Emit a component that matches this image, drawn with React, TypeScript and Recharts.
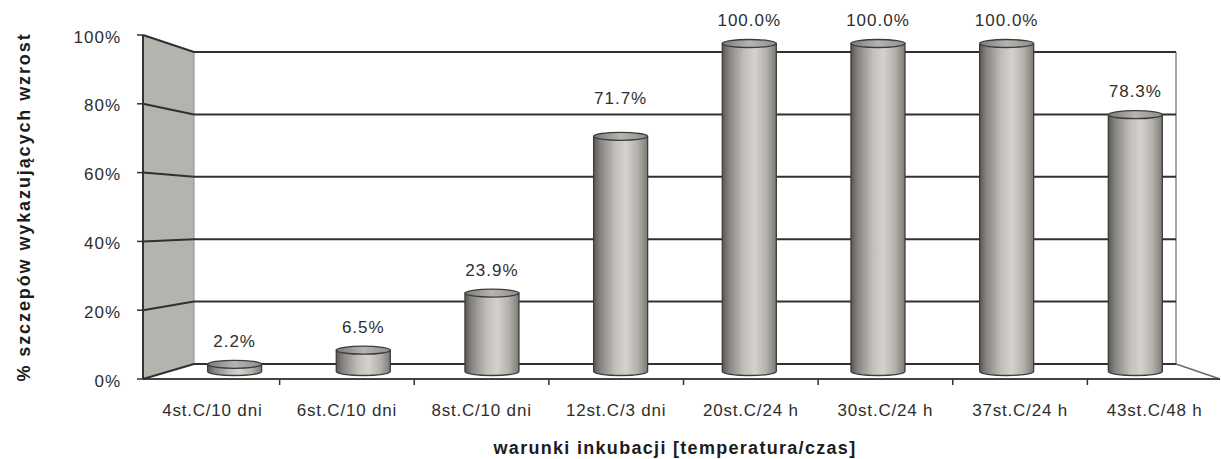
import React from 'react';
import { BarChart, Bar, XAxis, YAxis, CartesianGrid, LabelList, Label } from 'recharts';

// Share of strains showing growth under each incubation condition
const categories = [
  '4st.C/10 dni',
  '6st.C/10 dni',
  '8st.C/10 dni',
  '12st.C/3 dni',
  '20st.C/24 h',
  '30st.C/24 h',
  '37st.C/24 h',
  '43st.C/48 h',
];
const growthPercent = [2.2, 6.5, 23.9, 71.7, 100.0, 100.0, 100.0, 78.3];
const yTicks = [0, 20, 40, 60, 80, 100];
const xTitle = 'warunki inkubacji [temperatura/czas]';
const yTitle = '% szczepów wykazujących wzrost';

const data = categories.map((name, i) => ({ name, value: growthPercent[i] }));

// ---- layout -------------------------------------------------------------
const W = 1221;
const H = 459;
const Y_AXIS_W = 60;
const X_AXIS_H = 40;
const MARGIN = { top: 43.5, right: 21, bottom: 47.5, left: 110.6 };

// the plot area is the middle depth plane of the 3-D box (where the cylinders stand)
const PLOT = {
  left: MARGIN.left + Y_AXIS_W,
  right: W - MARGIN.right,
  top: MARGIN.top,
  bottom: H - MARGIN.bottom - X_AXIS_H,
};
type Plane = { left: number; right: number; top: number; bottom: number };
// front and back faces of the box, in perspective
const FRONT: Plane = { left: 143, right: 1220, top: 35, bottom: 379 };
const BACK: Plane = { left: 194, right: 1176, top: 52, bottom: 364 };

const toPlaneX = (x: number, p: Plane) =>
  p.left + ((x - PLOT.left) * (p.right - p.left)) / (PLOT.right - PLOT.left);
const toPlaneY = (y: number, p: Plane) =>
  p.top + ((y - PLOT.top) * (p.bottom - p.top)) / (PLOT.bottom - PLOT.top);

const FONT = 'Liberation Sans, Arial, Helvetica, sans-serif';
const TEXT = '#2e2e2e';
const GRID = '#303030';
const RY = 4; // half-height of the cylinder end ellipses

// raise the 12st.C label a bit above the others
const LABEL_LIFT: Record<number, number> = { 3: 15 };

// ---- box frame: left wall, floor edges, right edge of back wall -------
const BoxFrame = () => (
  <g>
    <polygon
      points={`${FRONT.left},${FRONT.top} ${BACK.left},${BACK.top} ${BACK.left},${BACK.bottom} ${FRONT.left},${FRONT.bottom}`}
      fill="#b5b3ae"
      stroke="none"
    />
    <line x1={BACK.left} y1={BACK.top} x2={BACK.left} y2={BACK.bottom} stroke="#8e8c88" strokeWidth={1} />
    <line x1={BACK.right} y1={BACK.top} x2={BACK.right} y2={BACK.bottom} stroke="#8a8a8a" strokeWidth={1.5} />
    <line x1={BACK.right} y1={BACK.bottom} x2={FRONT.right} y2={FRONT.bottom} stroke="#6a6a6a" strokeWidth={1.5} />
    <line x1={FRONT.left} y1={FRONT.bottom} x2={FRONT.right} y2={FRONT.bottom} stroke="#444" strokeWidth={2} />
    <line x1={FRONT.left} y1={FRONT.top} x2={FRONT.left} y2={FRONT.bottom} stroke="#333" strokeWidth={2} />
  </g>
);

// each horizontal grid line runs along the left wall and across the back wall
const renderGridLine = (props: any) => {
  const { y1, index } = props;
  const fy = toPlaneY(y1, FRONT);
  const by = toPlaneY(y1, BACK);
  return (
    <g key={`grid-${index}`}>
      {index === 0 && <BoxFrame />}
      <line x1={FRONT.left} y1={fy} x2={BACK.left} y2={by} stroke={GRID} strokeWidth={2} />
      <line x1={BACK.left} y1={by} x2={BACK.right} y2={by} stroke={GRID} strokeWidth={2} />
    </g>
  );
};

const renderYTick = (props: any) => {
  const { y, payload } = props;
  const fy = toPlaneY(y, FRONT);
  return (
    <g>
      <line x1={FRONT.left - 6} y1={fy} x2={FRONT.left} y2={fy} stroke="#333" strokeWidth={1.5} />
      <text
        x={121}
        y={fy + 2}
        textAnchor="end"
        dominantBaseline="central"
        fontFamily={FONT}
        fontSize={17}
        letterSpacing={1}
        fill={TEXT}
      >
        {`${payload.value}%`}
      </text>
    </g>
  );
};

const renderXTick = (props: any) => {
  const { x, payload, index } = props;
  const band = (PLOT.right - PLOT.left) / categories.length;
  const fx = toPlaneX(x, FRONT) + 2;
  const bx = toPlaneX(x - band / 2, FRONT) + 2;
  return (
    <g>
      {index > 0 && (
        <line x1={bx} y1={FRONT.bottom} x2={bx} y2={FRONT.bottom + 6} stroke="#333" strokeWidth={1.5} />
      )}
      <text
        x={fx}
        y={410}
        textAnchor="middle"
        dominantBaseline="central"
        fontFamily={FONT}
        fontSize={17}
        letterSpacing={0.8}
        fill={TEXT}
      >
        {payload.value}
      </text>
    </g>
  );
};

const renderCylinder = (props: any) => {
  const { x, y, width, height, index } = props;
  if (width == null || height == null) return <g />;
  const rx = width / 2;
  const cx = x + rx;
  const bodyId = `cyl-body-${index}`;
  const topId = `cyl-top-${index}`;
  return (
    <g>
      <defs>
        <linearGradient id={bodyId} x1="0" y1="0" x2="1" y2="0">
          <stop offset="0%" stopColor="#5a5856" />
          <stop offset="12%" stopColor="#85827f" />
          <stop offset="40%" stopColor="#c2bfbb" />
          <stop offset="60%" stopColor="#d5d2ce" />
          <stop offset="82%" stopColor="#b3b0ac" />
          <stop offset="100%" stopColor="#7c7976" />
        </linearGradient>
        <linearGradient id={topId} x1="0" y1="0" x2="1" y2="0">
          <stop offset="0%" stopColor="#7a7875" />
          <stop offset="50%" stopColor="#b8b5b1" />
          <stop offset="100%" stopColor="#8f8c89" />
        </linearGradient>
      </defs>
      <path
        d={`M${x},${y} L${x},${y + height} A${rx},${RY} 0 0 0 ${x + width},${y + height} L${x + width},${y} Z`}
        fill={`url(#${bodyId})`}
        stroke="#3c3c3c"
        strokeWidth={1.3}
      />
      <ellipse cx={cx} cy={y} rx={rx} ry={RY} fill={`url(#${topId})`} stroke="#3c3c3c" strokeWidth={1.3} />
    </g>
  );
};

const renderValueLabel = (props: any) => {
  const { x, y, width, value, index } = props;
  const lift = LABEL_LIFT[index] || 0;
  return (
    <text
      x={x + width / 2}
      y={y - RY - 19 - lift}
      textAnchor="middle"
      dominantBaseline="central"
      fontFamily={FONT}
      fontSize={17}
      letterSpacing={1}
      fill={TEXT}
    >
      {`${Number(value).toFixed(1)}%`}
    </text>
  );
};

const renderXTitle = () => (
  <text
    x={675}
    y={448}
    textAnchor="middle"
    dominantBaseline="central"
    fontFamily={FONT}
    fontSize={18}
    fontWeight="bold"
    letterSpacing={1.3}
    fill="#1c1c1c"
  >
    {xTitle}
  </text>
);

const renderYTitle = () => (
  <text
    x={24}
    y={207}
    transform="rotate(-90 24 207)"
    textAnchor="middle"
    dominantBaseline="central"
    fontFamily={FONT}
    fontSize={18}
    fontWeight="bold"
    letterSpacing={1.9}
    fill="#1c1c1c"
  >
    {yTitle}
  </text>
);

export default function App() {
  return (
    <div style={{ position: 'absolute', left: 0, top: 0, width: W, height: H, background: '#fff' }}>
      <BarChart width={W} height={H} data={data} margin={MARGIN}>
        <CartesianGrid vertical={false} horizontal={renderGridLine} />
        <XAxis
          dataKey="name"
          axisLine={false}
          tickLine={false}
          interval={0}
          height={X_AXIS_H}
          tick={renderXTick}
        >
          <Label content={renderXTitle} />
        </XAxis>
        <YAxis
          type="number"
          domain={[0, 100]}
          ticks={yTicks}
          axisLine={false}
          tickLine={false}
          width={Y_AXIS_W}
          tick={renderYTick}
        >
          <Label content={renderYTitle} />
        </YAxis>
        <Bar dataKey="value" barSize={54} isAnimationActive={false} shape={renderCylinder}>
          <LabelList dataKey="value" content={renderValueLabel} />
        </Bar>
      </BarChart>
    </div>
  );
}
